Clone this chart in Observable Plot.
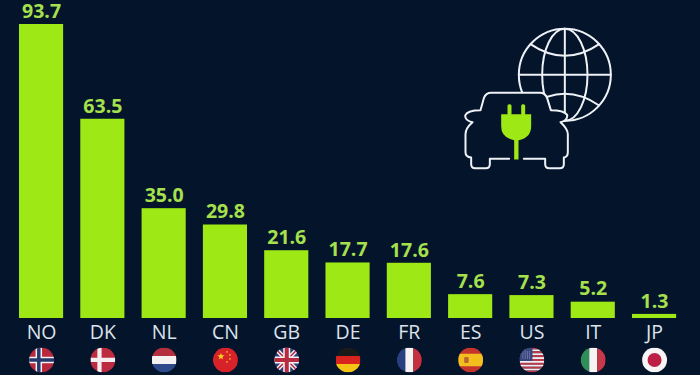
<!DOCTYPE html>
<html>
<head>
<meta charset="utf-8">
<script src="https://cdn.jsdelivr.net/npm/d3@7"></script>
<script src="https://cdn.jsdelivr.net/npm/@observablehq/plot@0.6"></script>
<style>
html,body{margin:0;padding:0;background:#04142b;width:700px;height:375px;overflow:hidden}
svg{display:block}
</style>
</head>
<body>
<div id="chart"></div>
<script>
const countries = ["NO","DK","NL","CN","GB","DE","FR","ES","US","IT","JP"];
const shares = [93.7,63.5,35.0,29.8,21.6,17.7,17.6,7.6,7.3,5.2,1.3];

const stripes = (y0, h, n, a, b) => d3.range(n).map(i => `<rect x="0" y="${y0 + i*h}" width="100" height="${h}" fill="${i%2 ? b : a}"/>`).join("");
const star = (cx, cy, r, fill) => {
  const pts = d3.range(10).map(i => {
    const a = -Math.PI/2 + i*Math.PI/5, q = i%2 ? r*0.4 : r;
    return `${(cx + q*Math.cos(a)).toFixed(1)},${(cy + q*Math.sin(a)).toFixed(1)}`;
  }).join(" ");
  return `<polygon points="${pts}" fill="${fill}"/>`;
};
const usStars = d3.range(4).flatMap(r => d3.range(4).map(c => star(14 + c*9, 18 + r*8, 2.6, "#f2f2f2"))).join("");
const flagArt = {
  NO: `<rect width="100" height="100" fill="#b8293f"/><rect x="26" width="26" height="100" fill="#f3eef0"/><rect y="37" width="100" height="26" fill="#f3eef0"/><rect x="32" width="14" height="100" fill="#27386b"/><rect y="43" width="100" height="14" fill="#27386b"/>`,
  DK: `<rect width="100" height="100" fill="#bd2b40"/><rect x="28" width="17" height="100" fill="#f4eef0"/><rect y="41" width="100" height="17" fill="#f4eef0"/>`,
  NL: `<rect width="100" height="34" fill="#b5303f"/><rect y="34" width="100" height="32" fill="#f5f2f2"/><rect y="66" width="100" height="34" fill="#2e4a8a"/>`,
  CN: `<rect width="100" height="100" fill="#d8222a"/>${star(32,36,15,"#f8d21c")}${star(56,18,5,"#f8d21c")}${star(68,30,5,"#f8d21c")}${star(68,46,5,"#f8d21c")}${star(56,58,5,"#f8d21c")}`,
  GB: `<rect width="100" height="100" fill="#2d3f78"/><path d="M0 0L100 100M100 0L0 100" stroke="#f4f0f0" stroke-width="17"/><path d="M0 0L100 100M100 0L0 100" stroke="#b92b40" stroke-width="6"/><rect x="36" width="28" height="100" fill="#f4f0f0"/><rect y="36" width="100" height="28" fill="#f4f0f0"/><rect x="42" width="16" height="100" fill="#b92b40"/><rect y="42" width="100" height="16" fill="#b92b40"/>`,
  DE: `<rect width="100" height="34" fill="#1a1a1a"/><rect y="34" width="100" height="32" fill="#d8231f"/><rect y="66" width="100" height="34" fill="#f5c316"/>`,
  FR: `<rect width="34" height="100" fill="#27407f"/><rect x="34" width="32" height="100" fill="#f5f3f3"/><rect x="66" width="34" height="100" fill="#c9303f"/>`,
  ES: `<rect width="100" height="100" fill="#c5352c"/><rect y="25" width="100" height="50" fill="#f3bf1e"/><rect x="24" y="38" width="18" height="24" rx="5" fill="#b8672e"/>`,
  US: `${stripes(0, 100/13, 13, "#c0384c", "#f3eef0")}<rect width="52" height="54" fill="#38457f"/>${usStars}`,
  IT: `<rect width="34" height="100" fill="#2f8f57"/><rect x="34" width="32" height="100" fill="#f5f3f3"/><rect x="66" width="34" height="100" fill="#c8384a"/>`,
  JP: `<rect width="100" height="100" fill="#f6f4f4"/><circle cx="50" cy="50" r="28" fill="#bd1f44"/>`
};
const flagSrc = c => "data:image/svg+xml," + encodeURIComponent(
  `<svg xmlns="http://www.w3.org/2000/svg" viewBox="0 0 100 100" width="100" height="100"><defs><clipPath id="c"><circle cx="50" cy="50" r="50"/></clipPath></defs><g clip-path="url(#c)">${flagArt[c]}</g></svg>`);

const carBody = "M122 232H268Q284 232 290 248L301 284Q340 284 350 298Q352 316 330 320Q352 340 352 356V410Q352 424 340 426V446Q340 458 328 458H296Q284 458 284 446V430H118V446Q118 458 106 458H74Q62 458 62 446V426Q45 424 45 410V356Q45 338 66 320Q44 316 44 300Q50 284 90 284L100 248Q106 232 122 232Z";
const carOutline = "M176 430H118V446Q118 458 106 458H74Q62 458 62 446V426Q45 424 45 410V356Q45 338 66 320Q44 316 44 300Q50 284 90 284L100 248Q106 232 122 232H268Q284 232 290 248L301 284Q340 284 350 298Q352 316 330 320Q352 340 352 356V410Q352 424 340 426V446Q340 458 328 458H296Q284 458 284 446V430H220";
const iconSvg = `<svg xmlns="http://www.w3.org/2000/svg" viewBox="0 0 525 480" width="525" height="480">
<g fill="none" stroke="#eef2f6" stroke-width="6" stroke-linejoin="round" stroke-linecap="round">
<circle cx="343" cy="178" r="138"/>
<ellipse cx="343" cy="178" rx="68" ry="138"/>
<path d="M343 40V316M205 178H481"/>
<path d="M240 86Q343 156 446 86"/>
<path d="M240 270Q343 200 446 270"/>
<path fill="#04142b" stroke="none" d="${carBody}"/>
<path d="${carOutline}"/>
</g>
<g fill="#9ee815">
<rect x="171" y="266" width="12" height="34" rx="5"/>
<rect x="212" y="266" width="12" height="34" rx="5"/>
<path d="M152 296H242V332Q242 366 204 374V432H191V374Q152 366 152 332Z"/>
</g>
</svg>`;
const iconSrc = "data:image/svg+xml," + encodeURIComponent(iconSvg);

const rows = countries.map((c, i) => ({country: c, share: shares[i]}));

const chart = Plot.plot({
  width: 700,
  height: 375,
  marginTop: 24,
  marginBottom: 57,
  marginLeft: 10.4,
  marginRight: 15.3,
  style: {background: "#04142b", fontFamily: "'Open Sans', sans-serif"},
  x: {domain: countries, paddingInner: 0.28, paddingOuter: 0.14, align: 0.5, round: false, label: null},
  y: {domain: [0, 93.7], axis: null, label: null},
  marks: [
    Plot.axisX({anchor: "bottom", tickSize: 0, tickPadding: 7, fontSize: 19.5, color: "#dde3ea", label: null, fontWeight: 400}),
    Plot.barY(rows, {x: "country", y: "share", fill: "#9ee815"}),
    Plot.text(rows, {x: "country", y: "share", text: d => d.share.toFixed(1), dy: -13, fill: "#a6e04c", fontSize: 19.5, fontWeight: 700}),
    Plot.image(rows, {x: "country", y: () => 0, dy: 41.5, width: 25, height: 25, src: d => flagSrc(d.country)}),
    Plot.image([iconSrc], {src: d => d, frameAnchor: "top-left", dx: 537.5 - 10.4, dy: 95 - 24, width: 175, height: 160})
  ]
});
document.getElementById("chart").append(chart);
</script>
</body>
</html>
